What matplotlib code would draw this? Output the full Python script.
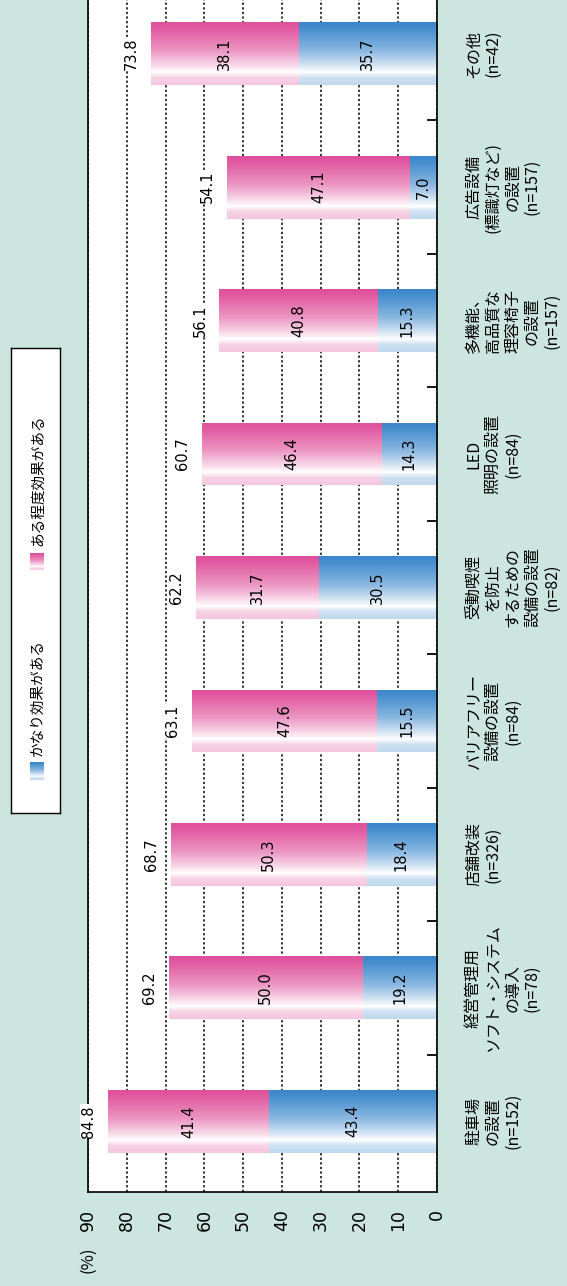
import numpy as np
import matplotlib
matplotlib.use("Agg")
import matplotlib.pyplot as plt
from matplotlib.colors import to_rgb
from matplotlib.transforms import blended_transform_factory

plt.rcParams['font.family'] = ['Noto Sans CJK JP', 'DejaVu Sans']

# data (bottom-to-top in the rotated picture = left-to-right in the original chart)
categories = [
    "駐車場\nの設置\n(n=152)",
    "経営管理用\nソフト・システム\nの導入\n(n=78)",
    "店舗改装\n(n=326)",
    "バリアフリー\n設備の設置\n(n=84)",
    "受動喫煙\nを防止\nするための\n設備の設置\n(n=82)",
    "LED\n照明の設置\n(n=84)",
    "多機能、\n高品質な\n理容椅子\nの設置\n(n=157)",
    "広告設備\n(標識灯など)\nの設置\n(n=157)",
    "その他\n(n=42)",
]
kanari = [43.4, 19.2, 18.4, 15.5, 30.5, 14.3, 15.3, 7.0, 35.7]
aru = [41.4, 50.0, 50.3, 47.6, 31.7, 46.4, 40.8, 47.1, 38.1]
series = ["かなり効果がある", "ある程度効果がある"]
ticks = [0, 10, 20, 30, 40, 50, 60, 70, 80, 90]

BG = "#cce5de"
BLUE = "#3a87cb"
PINK = "#df4f9a"
W, H = 567, 1286


def grad(color, n=80):
    base = np.array(to_rgb(color))
    t = np.linspace(0, 1, n)
    w = np.interp(t, [0, 0.12, 0.45, 0.7, 0.8, 0.88, 1.0],
                  [0.0, 0.08, 0.4, 0.8, 1.0, 0.75, 0.68])
    arr = base[None, :] * (1 - w[:, None]) + w[:, None]
    return arr[:, None, :]


fig = plt.figure(figsize=(W / 100, H / 100), dpi=100, facecolor=BG)
ax = fig.add_axes([88 / W, 1 - 1192 / H, (437 - 88) / W, 1205 / H])
ax.set_facecolor("white")

y = np.arange(len(categories))
tot = np.array(kanari) + np.array(aru)
bb = ax.barh(y, kanari, height=0.47, color="none", lw=0)
bp = ax.barh(y, aru, left=kanari, height=0.47, color="none", lw=0)

for bars, col in ((bb, BLUE), (bp, PINK)):
    for r in bars:
        x0, y0, bw, bh = r.get_x(), r.get_y(), r.get_width(), r.get_height()
        im = ax.imshow(grad(col), extent=(x0, x0 + bw, y0, y0 + bh), aspect="auto",
                       origin="upper", interpolation="bilinear", zorder=2)
        im.set_clip_path(r)

for i in y:
    ax.text(kanari[i] / 2, i, f"{kanari[i]:.1f}", rotation=90, ha="center", va="center",
            fontsize=10.5, family="DejaVu Sans", zorder=4)
    ax.text(kanari[i] + aru[i] / 2, i, f"{aru[i]:.1f}", rotation=90, ha="center", va="center",
            fontsize=10.5, family="DejaVu Sans", zorder=4)
    ax.annotate(f"{tot[i]:.1f}", xy=(tot[i], i), xytext=(-12, 0), textcoords="offset pixels",
                rotation=90, ha="right", va="center", fontsize=10.5, family="DejaVu Sans",
                zorder=4, bbox=dict(fc="white", ec="none", pad=0.5))

ax.set_xlim(90, 0)
ax.set_ylim(-0.53, 8.5)
ax.set_xticks(ticks)
ax.grid(axis="x", color="black", linestyle=(0, (1.5, 1.5)), lw=1.1)
ax.set_axisbelow(True)
ax.tick_params(axis="x", length=0, pad=12, labelsize=12.5, labelrotation=90)
for lbl in ax.get_xticklabels():
    lbl.set_fontfamily("DejaVu Sans")

ax.set_yticks([])
ax.set_yticks(y + 0.5, minor=True)
ax.yaxis.set_ticks_position("right")
ax.tick_params(axis="y", which="minor", direction="in", length=7, width=1.3,
               right=True, left=False, labelright=False)
for s in ax.spines.values():
    s.set_linewidth(1.2)

tr = blended_transform_factory(fig.transFigure, ax.transData)
for i, lab in enumerate(categories):
    ax.text(465 / W, i, lab, transform=tr, rotation=90, ha="left", va="center",
            multialignment="center", fontsize=11.5, linespacing=1.2, clip_on=False)

fig.text(88 / W, 1 - 1260 / H, "(%)", rotation=90, ha="center", va="center", fontsize=12)

# legend box
lax = fig.add_axes([11 / W, 1 - 813 / H, 49 / W, 465 / H])
lax.set_xticks([])
lax.set_yticks([])
for s in lax.spines.values():
    s.set_linewidth(1.0)
for (ym, yt), col, name in (((33, 57), BLUE, series[0]), ((243, 267), PINK, series[1])):
    lax.imshow(grad(col), extent=(19, 33, ym, ym + 17), aspect="auto", origin="upper",
               interpolation="bilinear")
    lax.text(27, yt, name, rotation=90, ha="center", va="bottom", fontsize=10.5)
lax.set_xlim(0, 49)
lax.set_ylim(0, 465)

fig.savefig("out.png", dpi=100, facecolor=BG)
